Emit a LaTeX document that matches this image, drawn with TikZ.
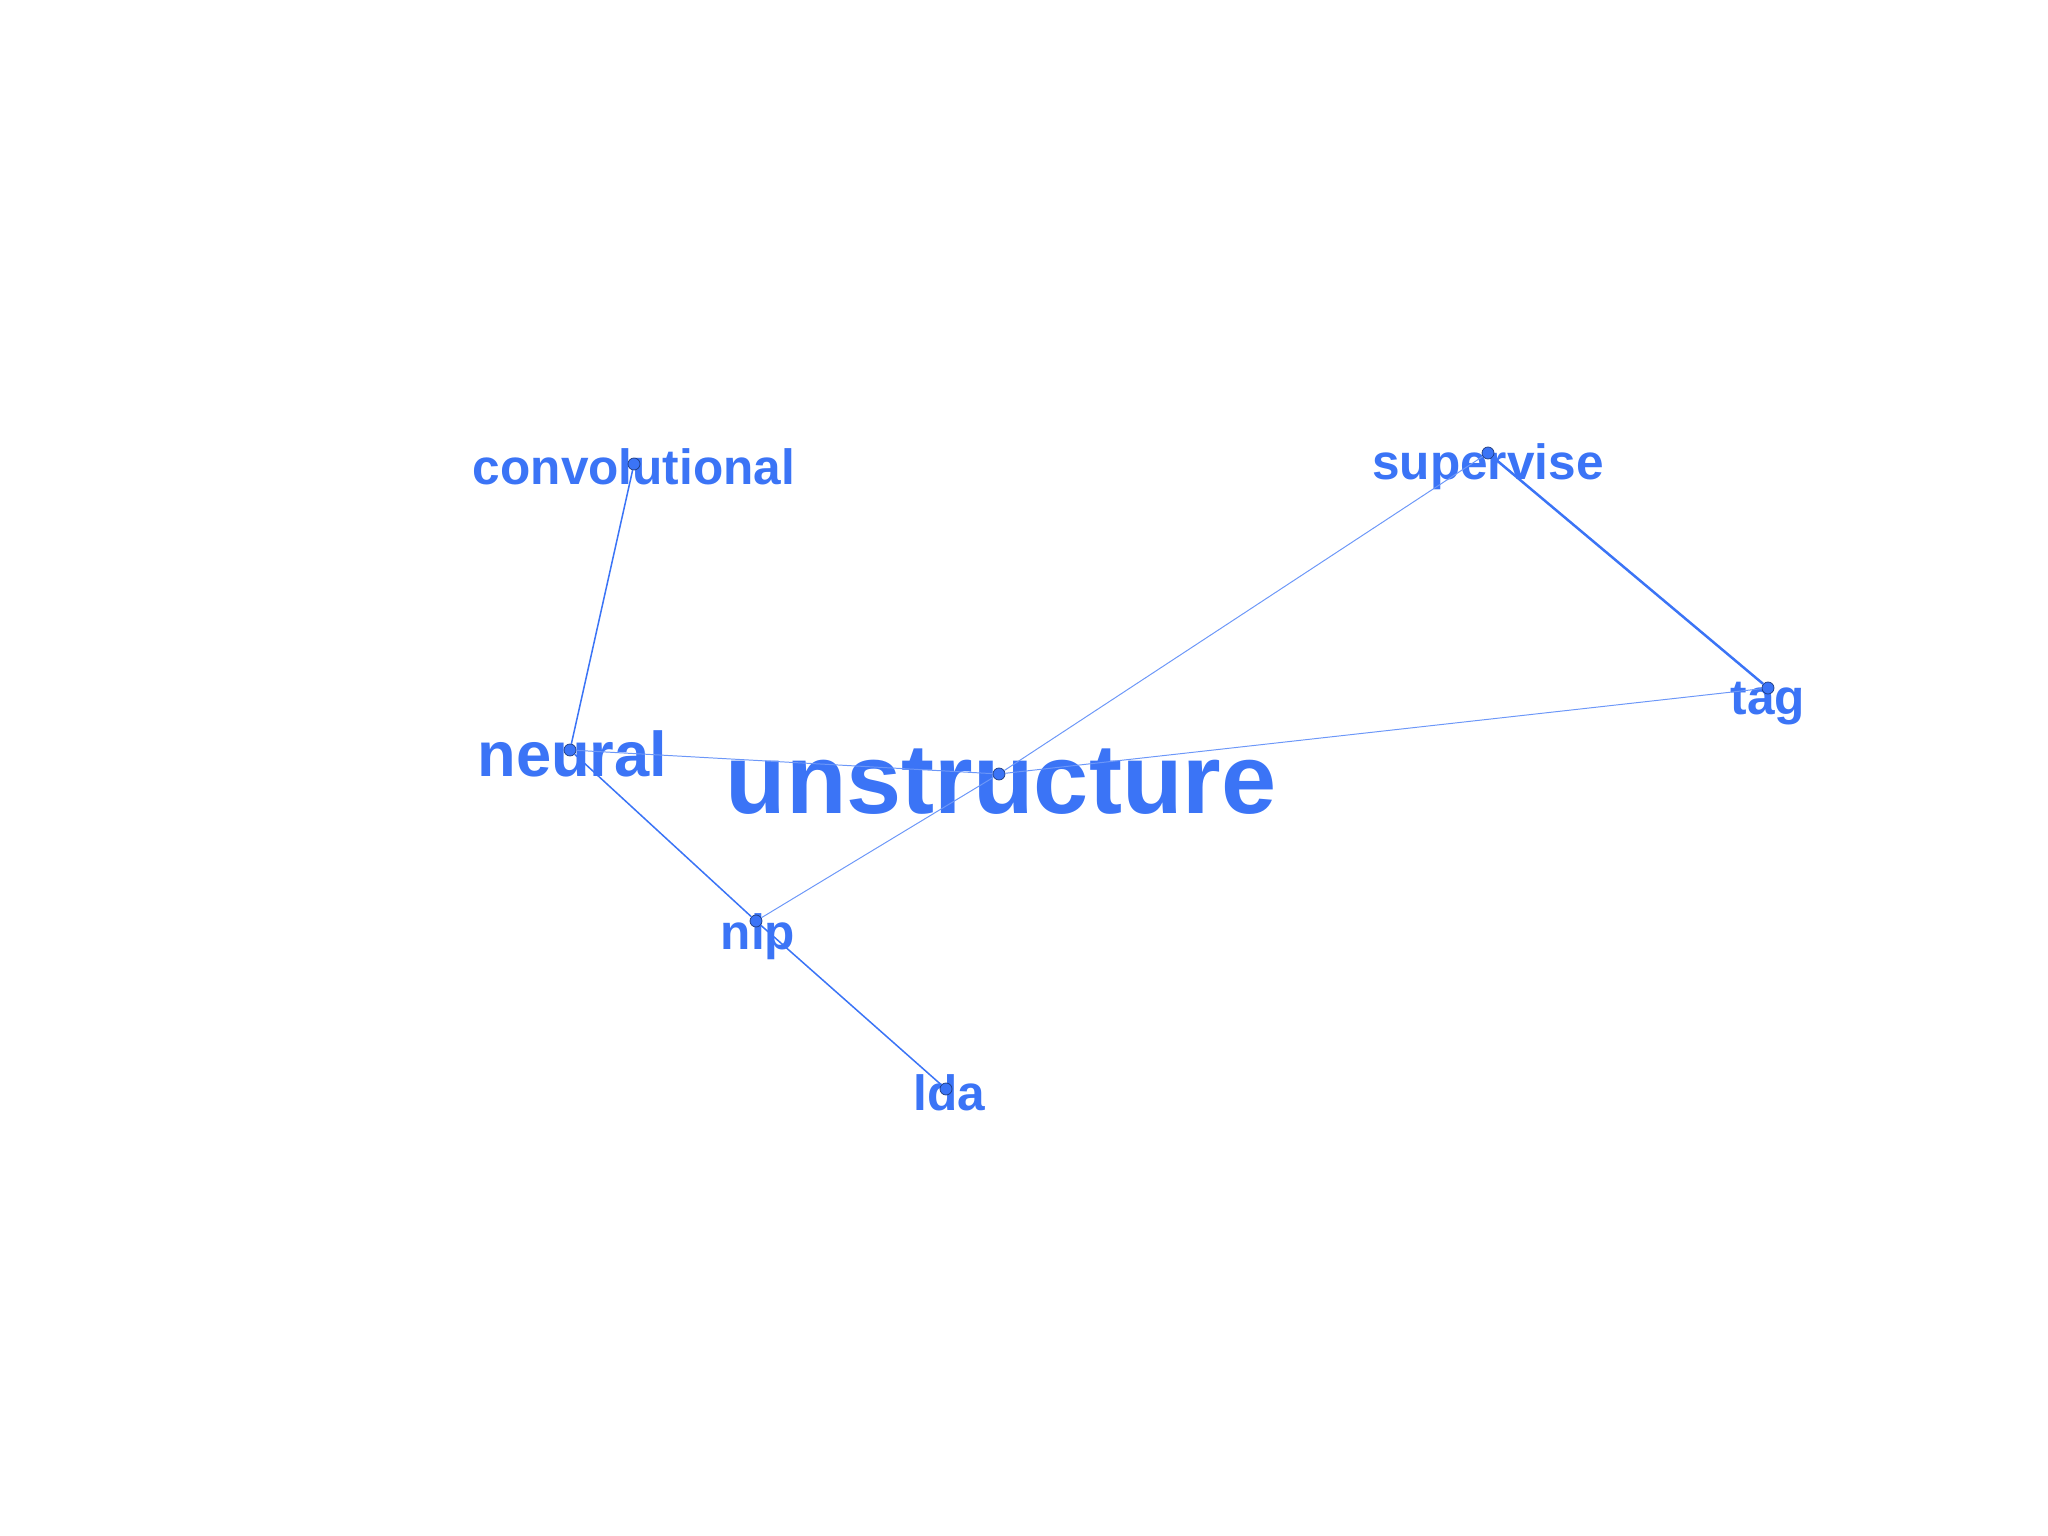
\documentclass[tikz,border=0pt]{standalone}
\usepackage{fontspec}
\setmainfont{Liberation Sans}
\usepackage{tikz}
\usetikzlibrary{positioning}

\definecolor{wordblue}{HTML}{3B74F6}
\definecolor{dotedge}{HTML}{1F3C80}

\begin{document}
\begin{tikzpicture}[
    word/.style={text=wordblue, inner sep=0pt, anchor=base, font=\bfseries\fontsize{14.1}{14.1}\selectfont},
    midword/.style={word, font=\bfseries\fontsize{18}{18}\selectfont},
    bigword/.style={word, font=\bfseries\fontsize{28.2}{28.2}\selectfont},
    dot/.style={circle, draw=dotedge, fill=wordblue, line width=0.2pt, inner sep=0pt, minimum size=0.12cm},
    strong/.style={draw=wordblue, line width=0.71pt},
    medium/.style={draw=wordblue, line width=0.43pt},
    weak/.style={draw=wordblue!75, line width=0.28pt}
]
    \useasboundingbox (0,0) rectangle (20.48,-15.36);

    % Words (at their baselines)
    \node[word] (convolutional-t) at (6.34,-4.85) {convolutional};
    \node[word] (supervise-t) at (14.88,-4.793) {supervise};
    \node[word] (tag-t) at (17.68,-7.15) {tag};
    \node[midword] (neural-t) at (5.723,-7.767) {neural};
    \node[bigword] (unstructure-t) at (10.01,-8.133) {unstructure};
    \node[word] (nlp-t) at (7.58,-9.49) {nlp};
    \node[word] (lda-t) at (9.495,-11.10) {lda};

    % Points
    \node[dot] (convolutional) at (6.34,-4.64) {};
    \node[dot] (supervise) at (14.88,-4.53) {};
    \node[dot] (tag) at (17.68,-6.88) {};
    \node[dot] (neural) at (5.70,-7.50) {};
    \node[dot] (unstructure) at (9.99,-7.74) {};
    \node[dot] (nlp) at (7.56,-9.21) {};
    \node[dot] (lda) at (9.46,-10.89) {};

    % Links
    \draw[strong] (supervise) -- (tag);
    \draw[medium] (convolutional) -- (neural);
    \draw[medium] (neural) -- (nlp);
    \draw[medium] (nlp) -- (lda);
    \draw[weak] (neural) -- (unstructure);
    \draw[weak] (unstructure) -- (supervise);
    \draw[weak] (unstructure) -- (tag);
    \draw[weak] (unstructure) -- (nlp);
\end{tikzpicture}
\end{document}
